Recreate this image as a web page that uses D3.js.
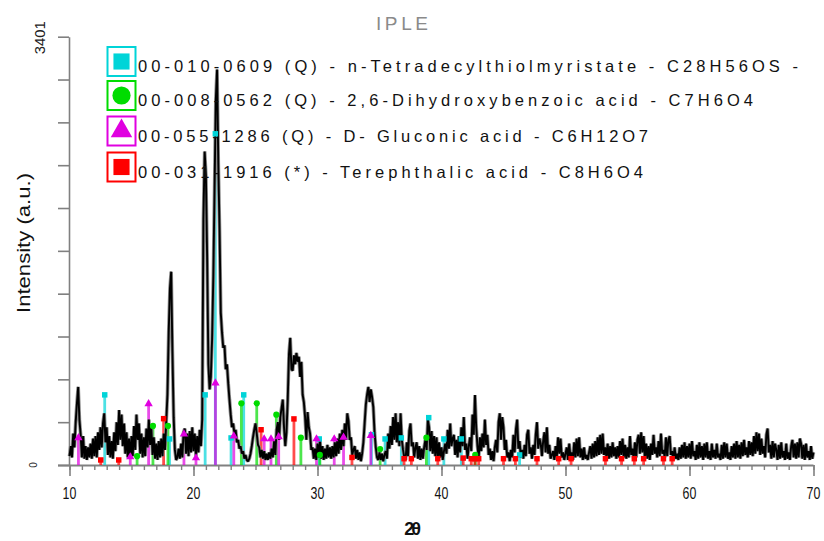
<!DOCTYPE html>
<html>
<head>
<meta charset="utf-8">
<script src="https://cdn.jsdelivr.net/npm/d3@7/dist/d3.min.js"></script>
<style>
  body { margin: 0; background: #fff; }
  svg { display: block; }
</style>
</head>
<body>
<svg id="chart" width="824" height="541"></svg>
<script>
// Diffraction scan: 2θ from 10° to 70°, 0.1° step
const angleStart = 10;
const angleStep = 0.1;
const intensity = [
  70,150,60,250,140,340,490,620,360,240,
  60,230,50,150,40,140,60,170,50,210,
  70,230,60,260,120,300,140,330,410,180,
  300,80,230,60,190,50,260,110,340,160,
  437,200,400,150,330,90,260,60,210,50,
  230,70,310,120,400,200,330,90,250,60,
  220,70,290,140,360,160,300,80,220,50,
  170,40,190,60,210,70,250,120,340,560,
  1050,1400,1535,900,380,120,40,60,130,50,
  170,60,260,290,90,250,70,270,100,300,
  110,250,70,230,100,280,150,360,1950,2490,
  2300,1650,800,600,700,1000,1500,2200,2900,3140,
  2400,1870,1210,1050,930,950,760,800,650,520,
  400,300,330,250,280,180,200,130,150,90,
  110,50,80,40,30,50,90,150,220,280,
  330,250,160,140,60,120,50,110,40,90,
  40,100,50,130,60,190,80,280,340,200,
  380,450,520,300,150,260,520,880,1010,760,
  750,870,800,890,820,860,700,820,560,500,
  380,200,420,300,250,120,140,50,130,40,
  170,60,200,50,150,40,130,50,160,60,
  140,50,150,60,180,70,210,90,250,120,
  280,150,330,200,410,350,200,220,80,120,
  150,50,120,40,100,30,90,180,330,480,
  560,620,500,600,540,460,260,140,60,40,
  100,40,90,30,80,110,50,250,130,310,
  160,380,200,410,180,340,150,410,200,120,
  60,40,180,70,270,330,150,180,60,140,
  180,50,150,40,130,50,140,200,120,360,
  300,110,270,90,230,70,220,50,180,60,
  140,40,110,170,90,280,130,330,150,210,
  240,80,200,60,230,100,300,150,380,120,
  170,50,150,220,110,400,240,556,300,150,
  60,220,110,250,140,360,160,240,80,130,
  40,110,30,140,200,100,340,410,200,380,
  300,120,200,60,100,30,120,60,240,100,
  280,360,130,190,60,120,50,160,70,240,
  280,90,140,50,160,80,240,340,130,210,
  170,70,190,260,100,300,90,160,50,80,
  110,40,150,60,220,90,210,60,100,40,
  90,140,40,170,60,100,40,180,60,210,
  70,220,60,130,40,140,50,80,40,100,
  150,50,170,60,190,70,220,80,240,90,
  250,80,140,60,170,50,150,60,180,70,
  140,50,150,60,190,80,210,60,160,50,
  140,60,230,80,130,50,180,60,200,240,
  90,260,100,230,60,170,50,150,40,170,
  80,240,90,140,60,190,70,250,90,120,
  60,220,70,200,230,80,110,40,140,50,
  90,40,140,50,160,60,180,50,150,60,
  170,50,190,70,110,40,160,50,180,60,
  150,40,170,60,180,50,110,40,170,60,
  120,50,170,60,90,40,160,50,180,60,
  170,50,100,40,150,60,170,50,190,60,
  160,50,180,70,200,80,140,60,190,80,
  180,70,230,90,260,110,250,80,210,90,
  150,60,240,290,100,160,50,190,60,170,
  120,40,160,50,180,60,110,40,170,50,
  100,40,150,200,60,170,50,180,60,210,
  170,50,160,40,170,60,110,40,150,50,
  100
];

// Reference patterns: [2θ, intensity] sticks for each phase
const tetradecylSticks = [
  [12.84,557],[18.07,207],[20.94,557],[21.76,2630],[23.03,215],[24.05,557],
  [30.14,207],[34.35,240],[35.45,207],[36.76,215],[38.97,376],[40.19,207],
  [41.6,207],[46.3,80]
];
const dihydroxySticks = [
  [15.45,70],[16.73,310],[17.94,310],[23.86,490],[25.1,490],[26.68,400],
  [28.66,217],[30.19,80],[35.05,127],[38.78,217],[42.72,80]
];
const gluconicSticks = [
  [10.72,215],[14.9,64],[16.38,485],[19.23,246],[20.2,56],[21.77,650],
  [23.25,230],[25.7,207],[26.25,207],[26.87,223],[29.92,207],[31.35,207],
  [32.1,220],[34.3,233]
];
const terephthalicSticks = [
  [12.52,40],[13.97,40],[17.59,368],[25.45,280],[28.1,366],[32.78,60],
  [36.98,50],[37.57,50],[39.7,50],[41.75,55],[42.4,50],[42.7,50],[43.0,50],
  [45.0,50],[45.96,50],[47.7,50],[49.45,50],[50.45,50],[53.22,50],
  [54.52,50],[55.55,50],[56.3,50],[57.9,50],[58.6,50]
];

const legendLabels = [
  "00-010-0609 (Q) - n-Tetradecylthiolmyristate - C28H56OS -",
  "00-008-0562 (Q) - 2,6-Dihydroxybenzoic acid - C7H6O4",
  "00-055-1286 (Q) - D- Gluconic acid - C6H12O7",
  "00-031-1916 (*) - Terephthalic acid - C8H6O4"
];

const xTickLabels = [10, 20, 30, 40, 50, 60, 70];
const yMax = 3401;
const yTickCount = 10;

const phases = [
  { sticks: tetradecylSticks, color: "#00d4d8", symbol: d3.symbolSquare },
  { sticks: dihydroxySticks, color: "#00dc00", symbol: d3.symbolCircle },
  { sticks: gluconicSticks, color: "#e000e0", symbol: d3.symbolTriangle },
  { sticks: terephthalicSticks, color: "#ff0000", symbol: d3.symbolSquare }
];

const svg = d3.select("#chart");
const x = d3.scaleLinear().domain([10, 70]).range([69.5, 813.5]);
const y = d3.scaleLinear().domain([0, yMax]).range([465, 36.7]);
const axisColor = "#808080";
const font = "'Liberation Sans', Arial, sans-serif";

// Title
svg.append("text")
  .attr("x", 402).attr("y", 30)
  .attr("text-anchor", "middle")
  .attr("font-family", font).attr("font-size", 19)
  .attr("fill", "#8a8a8a")
  .attr("textLength", 52).attr("lengthAdjust", "spacing")
  .text("IPLE");

// Y axis
const yTicks = d3.range(0, yTickCount + 1).map(i => i * yMax / yTickCount);
const yAxis = svg.append("g")
  .attr("transform", "translate(69,0)")
  .call(d3.axisLeft(y).tickValues(yTicks).tickSize(11).tickSizeOuter(0).tickFormat(""));
yAxis.selectAll("path, line").attr("stroke", axisColor).attr("stroke-width", 1.6);

// X axis: minor every degree, major every ten
const xMinor = d3.range(10, 71, 1);
const xAxisMinor = svg.append("g")
  .attr("transform", "translate(0,465)")
  .call(d3.axisBottom(x).tickValues(xMinor).tickSize(5).tickSizeOuter(0).tickFormat(""));
xAxisMinor.select(".domain").remove();
xAxisMinor.selectAll("line").attr("stroke", axisColor).attr("stroke-width", 1.4);
const xAxisMajor = svg.append("g")
  .attr("transform", "translate(0,465)")
  .call(d3.axisBottom(x).tickValues(xTickLabels).tickSize(11).tickSizeOuter(0).tickFormat(""));
xAxisMajor.select(".domain").remove();
xAxisMajor.selectAll("line").attr("stroke", axisColor).attr("stroke-width", 1.6);
svg.append("line")
  .attr("x1", 58).attr("x2", x(70))
  .attr("y1", 465.5).attr("y2", 465.5)
  .attr("stroke", axisColor).attr("stroke-width", 1.8);

// Narrow tick numerals under the major ticks
svg.append("g").selectAll("text")
  .data(xTickLabels)
  .join("text")
  .attr("transform", d => `translate(${x(d)},499) scale(0.75,1)`)
  .attr("text-anchor", "middle")
  .attr("font-family", font)
  .attr("font-size", 16.5)
  .attr("fill", "#111")
  .text(d => d);

// Y end labels, rotated
svg.append("text")
  .attr("transform", `translate(45,${y(yMax) + 1}) rotate(-90)`)
  .attr("text-anchor", "middle")
  .attr("font-family", font).attr("font-size", 15)
  .attr("fill", "#222")
  .attr("textLength", 33).attr("lengthAdjust", "spacingAndGlyphs")
  .text(yMax);
svg.append("text")
  .attr("transform", `translate(37,${y(0)}) rotate(-90)`)
  .attr("text-anchor", "middle")
  .attr("font-family", font).attr("font-size", 10)
  .attr("fill", "#222")
  .text("0");

// Axis titles
svg.append("text")
  .attr("transform", "translate(30,243) rotate(-90)")
  .attr("text-anchor", "middle")
  .attr("font-family", font).attr("font-size", 18)
  .attr("fill", "#111")
  .attr("textLength", 140).attr("lengthAdjust", "spacingAndGlyphs")
  .text("Intensity (a.u.)");
svg.append("text")
  .attr("x", 411).attr("y", 535)
  .attr("text-anchor", "middle")
  .attr("font-family", font).attr("font-size", 18).attr("font-weight", "bold")
  .attr("letter-spacing", -3)
  .attr("fill", "#111")
  .text("2θ");

// Stick lines (under the scan)
const stickLayer = svg.append("g");
phases.forEach(p => {
  stickLayer.selectAll(null)
    .data(p.sticks)
    .join("line")
    .attr("x1", d => x(d[0])).attr("x2", d => x(d[0]))
    .attr("y1", y(0)).attr("y2", d => y(d[1]))
    .attr("stroke", p.color).attr("stroke-opacity", 0.7)
    .attr("stroke-width", 2.8);
});

// Scan trace: grey halo with a black core
const line = d3.line()
  .x((d, i) => x(angleStart + i * angleStep))
  .y(d => y(d));
svg.append("path")
  .datum(intensity)
  .attr("d", line)
  .attr("fill", "none")
  .attr("stroke", "#8c8c8c")
  .attr("stroke-width", 3.6)
  .attr("stroke-linejoin", "bevel");
svg.append("path")
  .datum(intensity)
  .attr("d", line)
  .attr("fill", "none")
  .attr("stroke", "#000")
  .attr("stroke-width", 1.9)
  .attr("stroke-linejoin", "bevel");

// Stick-top markers
const markerLayer = svg.append("g");
phases.forEach(p => {
  markerLayer.selectAll(null)
    .data(p.sticks)
    .join("path")
    .attr("transform", d => `translate(${x(d[0])},${y(d[1])})`)
    .attr("d", d3.symbol().type(p.symbol).size(30))
    .attr("fill", p.color);
});

// Legend
const legend = svg.append("g");
const rowY = [61.5, 95.5, 131, 167];
const rowEnd = [798, 753, 648, 643];
phases.forEach((p, i) => {
  const g = legend.append("g").attr("transform", `translate(121.5,${rowY[i]})`);
  g.append("rect")
    .attr("x", -14).attr("y", -14.5).attr("width", 28).attr("height", 29)
    .attr("fill", "#fff").attr("stroke", p.color).attr("stroke-width", 2);
  g.append("path")
    .attr("d", d3.symbol().type(p.symbol).size(p.symbol === d3.symbolTriangle ? 200 : 260))
    .attr("fill", p.color);
  legend.append("text")
    .attr("x", 138).attr("y", rowY[i] + 10.5)
    .attr("font-family", font).attr("font-size", 16.5)
    .attr("fill", "#111")
    .attr("textLength", rowEnd[i] - 138).attr("lengthAdjust", "spacing")
    .text(legendLabels[i]);
});
</script>
</body>
</html>
